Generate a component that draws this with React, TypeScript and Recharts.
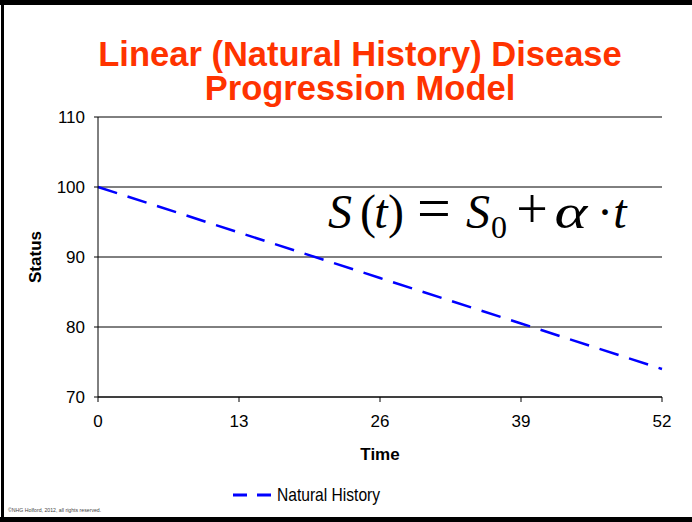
import { LineChart, Line, XAxis, YAxis, CartesianGrid, Label } from "recharts";

// values
const times = [0, 13, 26, 39, 52];
const naturalHistory = [100, 93.5, 87, 80.5, 74];
const yTicks = [70, 80, 90, 100, 110];

const data = times.map((t, i) => ({ t, status: naturalHistory[i] }));

const FONT = "'Liberation Sans', Arial, sans-serif";
const SERIF = "'Liberation Serif', 'Times New Roman', serif";

export default function App() {
  return (
    <div
      style={{
        position: "absolute",
        left: 0,
        top: 0,
        width: 692,
        height: 522,
        background: "#fff",
        overflow: "hidden",
      }}
    >
      {/* slide frame */}
      <div style={{ position: "absolute", left: 0, top: 0, width: 692, height: 5, background: "#000" }} />
      <div style={{ position: "absolute", left: 0, bottom: 0, width: 692, height: 5, background: "#000" }} />
      <div style={{ position: "absolute", left: 1, top: 0, width: 3, height: 522, background: "#000" }} />

      <div
        style={{
          position: "absolute",
          left: 0,
          top: 37,
          width: 720,
          textAlign: "center",
          fontFamily: FONT,
          fontWeight: 700,
          fontSize: 34.5,
          lineHeight: "34px",
          color: "#FF3300",
        }}
      >
        <div>Linear (Natural History) Disease</div>
        <div>Progression Model</div>
      </div>

      <LineChart width={692} height={522} data={data} margin={{ top: 117, right: 30, bottom: 0, left: 0 }}>
        <CartesianGrid horizontal vertical={false} stroke="#000" strokeWidth={1} />
        <XAxis
          dataKey="t"
          type="number"
          domain={[0, 52]}
          ticks={times}
          height={125}
          stroke="#000"
          tickSize={5}
          tickMargin={13}
          tick={{ fill: "#000", fontSize: 17, fontFamily: FONT }}
        >
          <Label value="Time" position="insideTop" offset={51} style={{ fill: "#000", fontSize: 17, fontWeight: 700, fontFamily: FONT }} />
        </XAxis>
        <YAxis
          type="number"
          domain={[70, 110]}
          ticks={yTicks}
          width={98}
          stroke="#000"
          tickSize={4}
          tickMargin={9}
          tick={{ fill: "#000", fontSize: 17, fontFamily: FONT }}
        >
          <Label
            value="Status"
            angle={-90}
            position="insideLeft"
            offset={35}
            style={{ fill: "#000", fontSize: 17, fontWeight: 700, fontFamily: FONT, textAnchor: "middle" }}
          />
        </YAxis>
        <Line
          type="linear"
          dataKey="status"
          stroke="#0000FF"
          strokeWidth={2.5}
          strokeDasharray="20 11"
          dot={false}
          isAnimationActive={false}
        />
      </LineChart>

      {/* equation S(t) = S0 + α·t */}
      <svg style={{ position: "absolute", left: 0, top: 0 }} width={692} height={522}>
        <g fontFamily={SERIF} fill="#000" textAnchor="middle">
          <text x={340} y={228} fontSize={48} fontStyle="italic">S</text>
          <text x={368} y={228} fontSize={48}>(</text>
          <text x={381} y={228} fontSize={48} fontStyle="italic">t</text>
          <text x={396} y={228} fontSize={48}>)</text>
          <text x={434} y={228} fontSize={60}>=</text>
          <text x={478} y={228} fontSize={48} fontStyle="italic">S</text>
          <text x={499} y={238} fontSize={32}>0</text>
          <text x={532} y={228} fontSize={56}>+</text>
          <text transform="translate(571,228) scale(1.3,1)" x={0} y={0} fontSize={48} fontStyle="italic">α</text>
          <text x={605} y={228} fontSize={48}>·</text>
          <text x={620} y={228} fontSize={48} fontStyle="italic">t</text>
        </g>
      </svg>

      {/* legend */}
      <div
        style={{
          position: "absolute",
          left: 233,
          top: 484,
          display: "flex",
          alignItems: "center",
          fontFamily: FONT,
          fontSize: 19,
          lineHeight: "22px",
          color: "#000",
          whiteSpace: "nowrap",
        }}
      >
        <svg width={42} height={10} style={{ marginRight: 2 }}>
          <line x1={0} y1={5} x2={38} y2={5} stroke="#0000FF" strokeWidth={3} strokeDasharray="14 10" />
        </svg>
        <span style={{ display: "inline-block", transform: "scaleX(0.82)", transformOrigin: "left center" }}>
          Natural History
        </span>
      </div>

      <div
        style={{
          position: "absolute",
          left: 8,
          top: 507,
          fontFamily: FONT,
          fontSize: 5.2,
          color: "#444",
          whiteSpace: "nowrap",
        }}
      >
        ©NHG Holford, 2012, all rights reserved.
      </div>
    </div>
  );
}
